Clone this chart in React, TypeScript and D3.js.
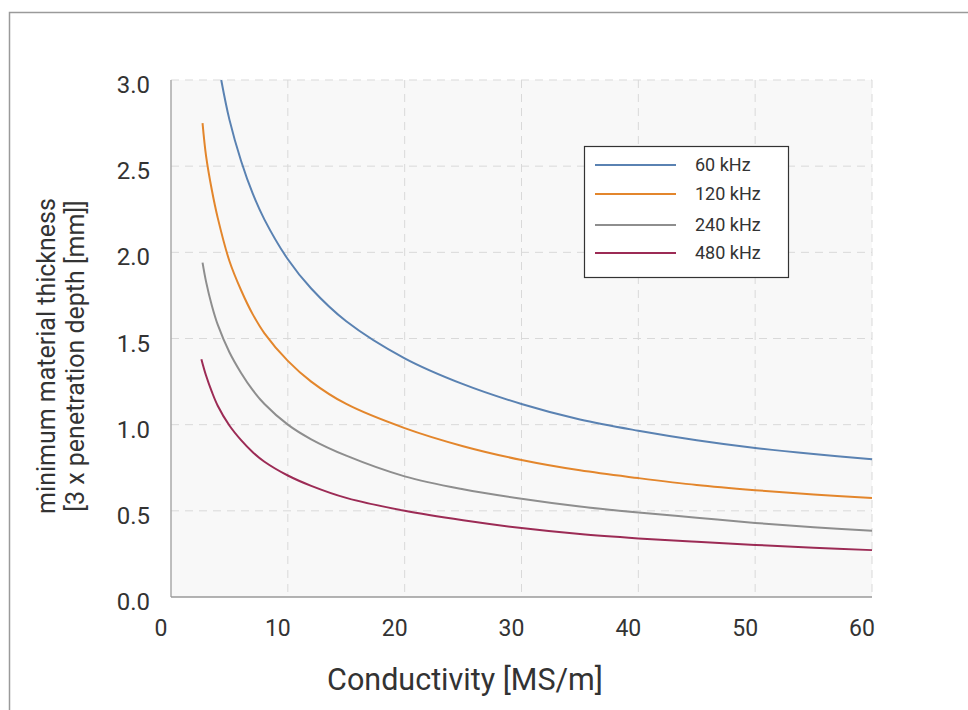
import React, { useEffect, useRef } from "react";
import * as d3 from "d3";

// values
const xTicks = [0, 10, 20, 30, 40, 50, 60];
const yTicks = [0, 0.5, 1.0, 1.5, 2.0, 2.5, 3.0];

const x60 = [4.3, 5, 6, 7, 8, 10, 12, 15, 20, 25, 30, 35, 40, 45, 50, 55, 60];
const v60 = [3.0, 2.77, 2.53, 2.34, 2.19, 1.96, 1.79, 1.6, 1.385, 1.235, 1.12, 1.03, 0.965, 0.91, 0.865, 0.83, 0.8];

const x120 = [2.7, 3, 3.5, 4, 5, 6, 7, 8, 10, 12, 15, 20, 25, 30, 35, 40, 45, 50, 55, 60];
const v120 = [2.75, 2.56, 2.36, 2.2, 1.95, 1.78, 1.64, 1.53, 1.37, 1.25, 1.12, 0.98, 0.875, 0.795, 0.735, 0.69, 0.65, 0.62, 0.595, 0.575];

const x240 = [2.7, 3, 3.5, 4, 5, 6, 7, 8, 10, 12, 15, 20, 25, 30, 35, 40, 45, 50, 55, 60];
const v240 = [1.94, 1.83, 1.69, 1.58, 1.42, 1.3, 1.2, 1.12, 1.0, 0.915, 0.82, 0.7, 0.625, 0.57, 0.525, 0.49, 0.46, 0.43, 0.405, 0.385];

const x480 = [2.6, 3, 3.5, 4, 5, 6, 7, 8, 10, 12, 15, 20, 25, 30, 35, 40, 45, 50, 55, 60];
const v480 = [1.38, 1.285, 1.19, 1.11, 0.995, 0.91, 0.84, 0.785, 0.705, 0.645, 0.575, 0.5, 0.445, 0.4, 0.365, 0.34, 0.32, 0.302, 0.286, 0.272];

const seriesNames = ["60 kHz", "120 kHz", "240 kHz", "480 kHz"];
const seriesColors = ["#5a82b2", "#e3862c", "#8e8e8e", "#9c2b55"];

const FONT = "Roboto, 'Liberation Sans', sans-serif";

export default function App() {
  const ref = useRef<SVGSVGElement>(null);

  useEffect(() => {
    const svg = d3.select(ref.current);
    svg.selectAll("*").remove();

    const left = 171, right = 872, top = 80, bottom = 597;

    // outer frame
    svg.append("rect")
      .attr("x", 9.5).attr("y", 12.5)
      .attr("width", 1000).attr("height", 1000)
      .attr("fill", "white")
      .attr("stroke", "#9a9a9a").attr("stroke-width", 1.5);

    const x = d3.scaleLinear().domain([0, 60]).range([left, right]);
    const y = d3.scaleLinear().domain([0, 3]).range([bottom, top]);

    svg.append("rect")
      .attr("x", left).attr("y", top)
      .attr("width", right - left).attr("height", bottom - top)
      .attr("fill", "#f8f8f8");

    // grid
    svg.append("g").selectAll("line")
      .data(xTicks.filter(d => d > 0))
      .join("line")
      .attr("x1", d => x(d)).attr("x2", d => x(d))
      .attr("y1", top).attr("y2", bottom)
      .attr("stroke", "#d9d9d9").attr("stroke-dasharray", "8,6");

    svg.append("g").selectAll("line")
      .data(yTicks.filter(d => d > 0))
      .join("line")
      .attr("x1", left).attr("x2", right)
      .attr("y1", d => y(d)).attr("y2", d => y(d))
      .attr("stroke", "#d9d9d9").attr("stroke-dasharray", "8,6");

    // axis lines
    svg.append("line")
      .attr("x1", left).attr("x2", left).attr("y1", top).attr("y2", bottom)
      .attr("stroke", "#aaaaaa").attr("stroke-width", 1.5);
    svg.append("line")
      .attr("x1", left).attr("x2", right).attr("y1", bottom).attr("y2", bottom)
      .attr("stroke", "#9a9a9a").attr("stroke-width", 1.5);

    // tick labels
    svg.append("g").selectAll("text")
      .data(xTicks)
      .join("text")
      .attr("x", d => x(d) - 10).attr("y", 636)
      .attr("text-anchor", "middle")
      .attr("font-family", FONT).attr("font-size", 23).attr("fill", "#333")
      .text(d => d);

    svg.append("g").selectAll("text")
      .data(yTicks)
      .join("text")
      .attr("x", 150).attr("y", d => y(d) + 13)
      .attr("text-anchor", "end")
      .attr("font-family", FONT).attr("font-size", 24).attr("fill", "#333")
      .text(d => d3.format(".1f")(d));

    // curves
    const allX = [x60, x120, x240, x480];
    const allV = [v60, v120, v240, v480];
    const line = d3.line<[number, number]>()
      .x(d => x(d[0])).y(d => y(d[1]))
      .curve(d3.curveCatmullRom.alpha(0.5));

    allX.forEach((xs, i) => {
      const pts = xs.map((d, j) => [d, allV[i][j]] as [number, number]);
      svg.append("path")
        .attr("d", line(pts))
        .attr("fill", "none")
        .attr("stroke", seriesColors[i])
        .attr("stroke-width", 2);
    });

    // legend
    const lg = svg.append("g");
    lg.append("rect")
      .attr("x", 584.5).attr("y", 146.5).attr("width", 204).attr("height", 131)
      .attr("fill", "white").attr("stroke", "#333").attr("stroke-width", 1.2);
    const rowY = [165, 194, 225, 253];
    seriesNames.forEach((name, i) => {
      lg.append("line")
        .attr("x1", 595).attr("x2", 676).attr("y1", rowY[i]).attr("y2", rowY[i])
        .attr("stroke", seriesColors[i]).attr("stroke-width", 2);
      lg.append("text")
        .attr("x", 695).attr("y", rowY[i] + 6)
        .attr("font-family", FONT).attr("font-size", 18).attr("fill", "#333")
        .text(name);
    });

    // axis titles
    svg.append("text")
      .attr("x", 465).attr("y", 690)
      .attr("text-anchor", "middle")
      .attr("font-family", FONT).attr("font-size", 30.5).attr("fill", "#333")
      .text("Conductivity [MS/m]");

    svg.append("text")
      .attr("transform", "translate(55,356) rotate(-90)")
      .attr("text-anchor", "middle")
      .attr("font-family", FONT).attr("font-size", 25).attr("fill", "#333")
      .text("minimum material thickness");
    svg.append("text")
      .attr("transform", "translate(84,356) rotate(-90)")
      .attr("text-anchor", "middle")
      .attr("font-family", FONT).attr("font-size", 25).attr("fill", "#333")
      .text("[3 x penetration depth [mm]]");
  }, []);

  return (
    <svg
      ref={ref}
      width={968}
      height={710}
      style={{ position: "absolute", left: 0, top: 0 }}
    />
  );
}
